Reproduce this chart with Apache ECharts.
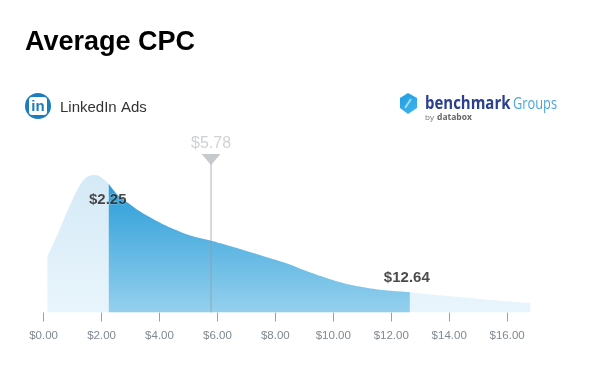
<!DOCTYPE html>
<html>
<head>
<meta charset="utf-8">
<style>html,body{margin:0;padding:0;background:#fff}#c{width:600px;height:381px}</style>
<script src="https://cdn.jsdelivr.net/npm/echarts@6/dist/echarts.min.js"></script>
</head>
<body>
<div id="c"></div>
<script>
const titleText = 'Average CPC';
const platform = 'LinkedIn Ads';
const tickValues = [0, 2, 4, 6, 8, 10, 12, 14, 16];
const cpc = [0.13,0.51,0.74,0.97,1.20,1.43,1.72,1.95,2.25,2.56,2.93,3.33,4.02,4.71,5.28,5.78,6.78,7.70,8.40,9.02,9.71,10.4,11.09,11.78,12.64,13.46,14.6,15.75,16.8];
const density = [56,80,96,111,124.5,134,137.5,135.8,128.5,117.5,109.2,101,89.8,80.8,75.2,71.8,63.5,55.2,49,42,35,29,25,22.2,20.3,17.8,14.8,11.8,9.5];
const lowQuartile = 2.25;
const median = 5.78;
const highQuartile = 12.64;

const pairs = cpc.map((x, i) => [x, density[i]]);
const band = pairs.filter(p => p[0] >= lowQuartile && p[0] <= highQuartile);
const yAt = x => pairs.find(p => p[0] === x)[1];
const money = v => '$' + v.toFixed(2);
const FONT = '"Liberation Sans", Arial, sans-serif';

const chart = echarts.init(document.getElementById('c'), null, {renderer: 'canvas'});
chart.setOption({
  animation: false,
  backgroundColor: '#fff',
  grid: {left: 43.6, width: 492.5, top: 152.5, height: 160},
  xAxis: {
    type: 'value', min: 0, max: 17,
    axisLine: {show: false},
    splitLine: {show: false},
    axisTick: {show: true, length: 9, customValues: tickValues, lineStyle: {color: '#9aa0a6', width: 1}},
    axisLabel: {show: true, customValues: tickValues, formatter: v => money(v), color: '#7f8890', fontSize: 11.5, fontFamily: FONT, margin: 17}
  },
  yAxis: {type: 'value', min: 0, max: 160, show: false},
  series: [
    {
      type: 'line', data: pairs, smooth: 0.4, symbol: 'none', lineStyle: {width: 0}, silent: true, z: 1,
      areaStyle: {opacity: 1, color: new echarts.graphic.LinearGradient(0, 0, 0, 1, [
        {offset: 0, color: '#d4e9f6'}, {offset: 1, color: '#e9f5fc'}])}
    },
    {
      type: 'line', data: band, smooth: 0.4, symbol: 'none', lineStyle: {width: 0}, silent: true, z: 2,
      areaStyle: {opacity: 1, color: new echarts.graphic.LinearGradient(0, 0, 0, 1, [
        {offset: 0, color: '#2a9dd8'}, {offset: 1, color: '#95d0ee'}])}
    },
    {
      type: 'line', data: [[median, 0], [median, 150]], symbol: 'none', silent: true, z: 3,
      lineStyle: {color: 'rgba(150,155,160,0.5)', width: 1.5}
    },
    {
      type: 'scatter', data: [[median, 153]], symbol: 'triangle', symbolRotate: 180, symbolSize: [19, 11], silent: true, z: 4,
      itemStyle: {color: '#b9bdc1'},
      label: {show: true, position: 'top', distance: 2, formatter: money(median), color: '#c3c7cb', fontSize: 16, fontFamily: FONT}
    },
    {
      type: 'scatter', data: [[lowQuartile, yAt(lowQuartile)], [highQuartile, yAt(highQuartile)]], symbolSize: 0, silent: true, z: 5,
      label: {
        show: true, position: 'top', distance: 0, color: '#1d1d1d', fontSize: 15, fontWeight: 'bold', fontFamily: FONT,
        textBorderColor: 'rgba(255,255,255,0.4)', textBorderWidth: 1,
        formatter: p => money(p.value[0])
      },
      labelLayout: p => p.dataIndex === 0 ? {dx: -1, dy: 23} : {dx: -3, dy: -7}
    }
  ],
  graphic: [
    {type: 'text', left: 25, top: 29, style: {text: titleText, font: 'bold 27px ' + FONT, fill: '#000'}},
    {type: 'circle', shape: {cx: 38, cy: 106, r: 13}, style: {fill: '#1b7dbb'}},
    {type: 'rect', shape: {x: 29, y: 97, width: 18, height: 18, r: 3}, style: {fill: '#fff'}},
    {type: 'text', x: 38, y: 107, style: {text: 'in', font: 'bold 15px ' + FONT, fill: '#1b7dbb', align: 'center', verticalAlign: 'middle'}},
    {type: 'text', left: 60, top: 100, style: {text: platform, font: '15px ' + FONT, fill: '#333'}},
    {type: 'polygon', shape: {points: [[408,93],[417,98],[417,108],[408,114],[400,108],[400,98]]},
      style: {fill: new echarts.graphic.LinearGradient(0, 0, 1, 1, [{offset: 0, color: '#1f9ce0'}, {offset: 1, color: '#3fb6ee'}])}},
    {type: 'line', shape: {x1: 405, y1: 108, x2: 411, y2: 99}, style: {stroke: '#a8dcf6', lineWidth: 2}},
    {type: 'text', x: 425, y: 104, scaleX: 0.88, style: {text: 'benchmark', font: 'bold 17px "Open Sans", sans-serif', fill: '#2b3f8f', verticalAlign: 'middle'}},
    {type: 'text', x: 513, y: 104, scaleX: 0.8, style: {text: 'Groups', font: '16px "Open Sans", sans-serif', fill: '#4aa5de', verticalAlign: 'middle'}},
    {type: 'text', x: 425, y: 118, style: {text: 'by', font: '8px "Open Sans", sans-serif', fill: '#777', verticalAlign: 'middle'}},
    {type: 'text', x: 437, y: 118, style: {text: 'databox', font: 'bold 8.5px "Open Sans", sans-serif', fill: '#666', verticalAlign: 'middle'}}
  ]
});
</script>
</body>
</html>
